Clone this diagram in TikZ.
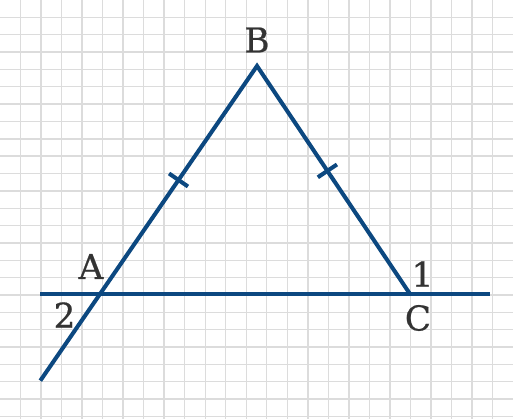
\documentclass[tikz,border=0pt]{standalone}
\usepackage{fontspec}
\setmainfont{DejaVu Serif}[FakeBold=0.6]
\usetikzlibrary{calc}
\definecolor{lineblue}{RGB}{12,72,128}
\definecolor{gridgray}{RGB}{220,220,220}
\definecolor{labelgray}{RGB}{51,51,51}

\begin{document}
\begin{tikzpicture}[x=0.02cm, y=-0.02cm,
		myline/.style={color = lineblue, line width = 2.3pt},
		mygrid/.style={color = gridgray, line width = 0.8pt},
		mylabel/.style={text = labelgray, font=\fontsize{19.5}{21}\selectfont, inner sep=0pt}
	]
		\useasboundingbox (0,0) rectangle (513,419);
		\fill[white] (0,0) rectangle (513,419);

		\foreach \i in {1,...,24} \draw[mygrid] (20.52*\i,0) -- (20.52*\i,419);
		\foreach \j in {1,...,24} \draw[mygrid] (0,17.35*\j) -- (513,17.35*\j);

		\coordinate (A) at (100,294);
		\coordinate (B) at (257,66);
		\coordinate (C) at (410,294);
		\coordinate (L) at (40,294);
		\coordinate (R) at (490,294);
		\coordinate (D) at ($(B)!1.38!(A)$);

		\draw[myline] (D) -- (B) -- (C);
		\draw[myline] (L) -- (R);

		\coordinate (M1) at ($(A)!0.5!(B)$);
		\coordinate (M2) at ($(B)!0.46!(C)$);
		\draw[myline] ($(M1)!0.23cm!90:(B)$) -- ($(M1)!0.23cm!-90:(B)$);
		\draw[myline] ($(M2)!0.23cm!90:(C)$) -- ($(M2)!0.23cm!-90:(C)$);

		\node[mylabel] (lB) at (257,40) {B};
		\node[mylabel] (lA) at (91,266.5) {A};
		\node[mylabel] (l2) at (64.5,315) {2};
		\node[mylabel] (l1) at (422.5,274) {1};
		\node[mylabel] (lC) at (418,318) {C};
	\end{tikzpicture}
\end{document}
